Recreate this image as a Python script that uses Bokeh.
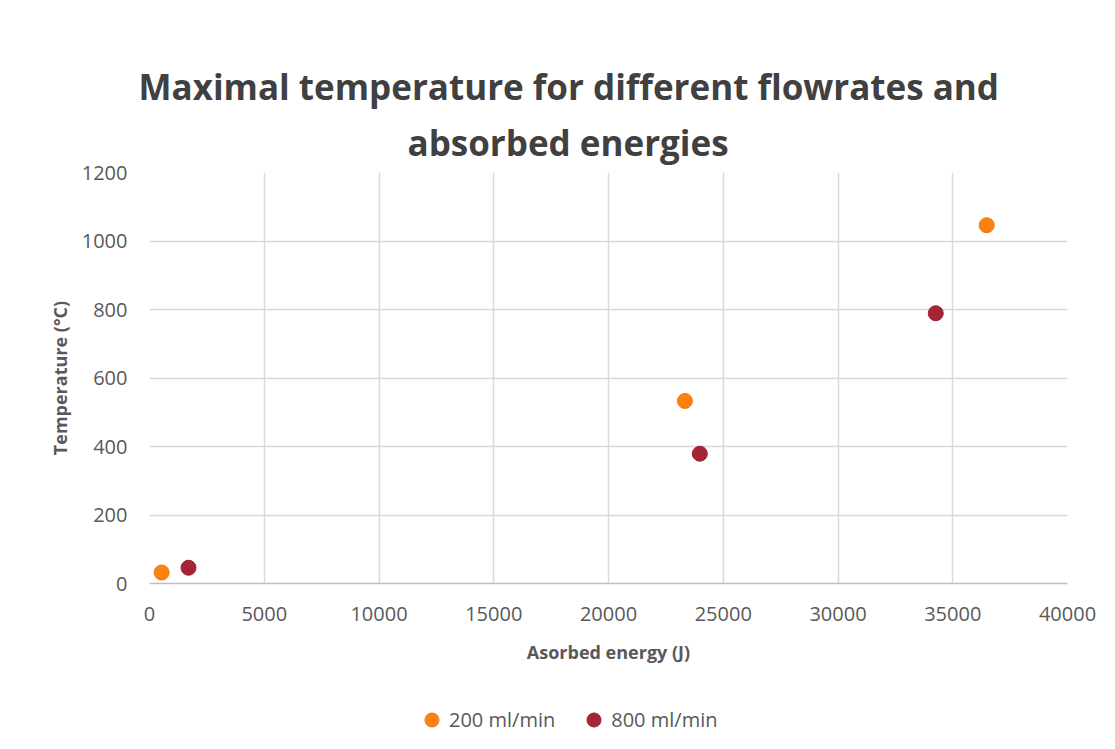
from bokeh.plotting import figure
from bokeh.layouts import column
from bokeh.models import Range1d, Title, Legend, LegendItem, SingleIntervalTicker, NumeralTickFormatter
from bokeh.embed import file_html
from bokeh.resources import INLINE

# data
energy_200 = [530, 23330, 36480]
temp_200 = [32, 533, 1046]
energy_800 = [1700, 23980, 34260]
temp_800 = [46, 379, 789]
series_names = ["200 ml/min", "800 ml/min"]
title_lines = ["Maximal temperature for different flowrates and", "absorbed energies"]
colors = ["#fb8110", "#a52535"]
edge_colors = ["#f07a0a", "#9a2030"]

FONT = "Open Sans"
W, H_MAIN, H_LEG = 1115, 700, 49
FL, FR, FT, FB = 149, 1067, 172, 583

p = figure(width=W, height=H_MAIN, output_backend="svg", toolbar_location=None,
           x_range=Range1d(0, 40000), y_range=Range1d(0, 1200),
           min_border_left=FL, min_border_right=W - FR,
           min_border_top=FT, min_border_bottom=H_MAIN - FB)
p.outline_line_color = None
p.background_fill_color = "white"
p.border_fill_color = "white"

for ax in (p.xaxis[0], p.yaxis[0]):
    ax.major_label_text_font = FONT
    ax.major_label_text_font_size = "20px"
    ax.major_label_text_color = "#595959"
    ax.axis_label_text_font = FONT
    ax.axis_label_text_font_style = "bold"
    ax.axis_label_text_font_size = "18px"
    ax.axis_label_text_color = "#595959"
    ax.major_tick_line_color = None
    ax.minor_tick_line_color = None

p.xaxis.ticker = SingleIntervalTicker(interval=5000)
p.yaxis.ticker = SingleIntervalTicker(interval=200)
p.xaxis.formatter = NumeralTickFormatter(format="0")
p.xaxis.axis_label = "Asorbed energy (J)"
p.yaxis.axis_label = "Temperature (°C)"
p.xaxis.axis_line_color = "#bfbfbf"
p.xaxis.axis_line_width = 1.5
p.yaxis.axis_line_color = None
p.xaxis.major_label_standoff = 17
p.yaxis.major_label_standoff = 16
p.xaxis.axis_label_standoff = 16
p.yaxis.axis_label_standoff = 7

p.xgrid.grid_line_color = "#d9d9d9"
p.ygrid.grid_line_color = "#d9d9d9"
p.xgrid.grid_line_width = 1.5
p.ygrid.grid_line_width = 1.5

p.scatter(energy_200, temp_200, size=15, fill_color=colors[0], line_color=edge_colors[0])
p.scatter(energy_800, temp_800, size=15, fill_color=colors[1], line_color=edge_colors[1])

# invisible spacer between the frame and the title block
p.add_layout(Title(text=".", text_font_size="4px", text_alpha=0, standoff=21), "above")
# title lines: second line first (closest to the frame), then the first line
for line, standoff, off in ((title_lines[1], 14, 258), (title_lines[0], 0, -11)):
    p.add_layout(Title(text=line, align="left", offset=off, standoff=standoff,
                       text_font=FONT, text_font_style="bold", text_font_size="35px",
                       text_color="#404040"), "above")

# legend strip underneath (series drawn off-range so only the legend shows)
lg = figure(width=W, height=H_LEG, output_backend="svg", toolbar_location=None,
            x_range=Range1d(0, 1), y_range=Range1d(0, 1),
            x_axis_type=None, y_axis_type=None,
            min_border_left=0, min_border_right=0, min_border_top=0, min_border_bottom=0)
lg.outline_line_color = None
lg.xgrid.visible = False
lg.ygrid.visible = False
lg.border_fill_color = "white"
items = []
for name, xs, ys, c, ec in zip(series_names, (energy_200, energy_800), (temp_200, temp_800),
                               colors, edge_colors):
    r = lg.scatter(xs, ys, size=15, fill_color=c, line_color=ec)
    items.append(LegendItem(label=name, renderers=[r]))
legend = Legend(items=items, orientation="horizontal", location=(265, 12),
                label_text_font=FONT, label_text_font_size="20px", label_text_color="#595959",
                glyph_width=35, glyph_height=35, label_standoff=-8, spacing=21,
                border_line_color=None, background_fill_alpha=0, padding=0, margin=0)
lg.add_layout(legend, "center")

open("out.html", "w").write(file_html(column(p, lg, spacing=0), INLINE))
